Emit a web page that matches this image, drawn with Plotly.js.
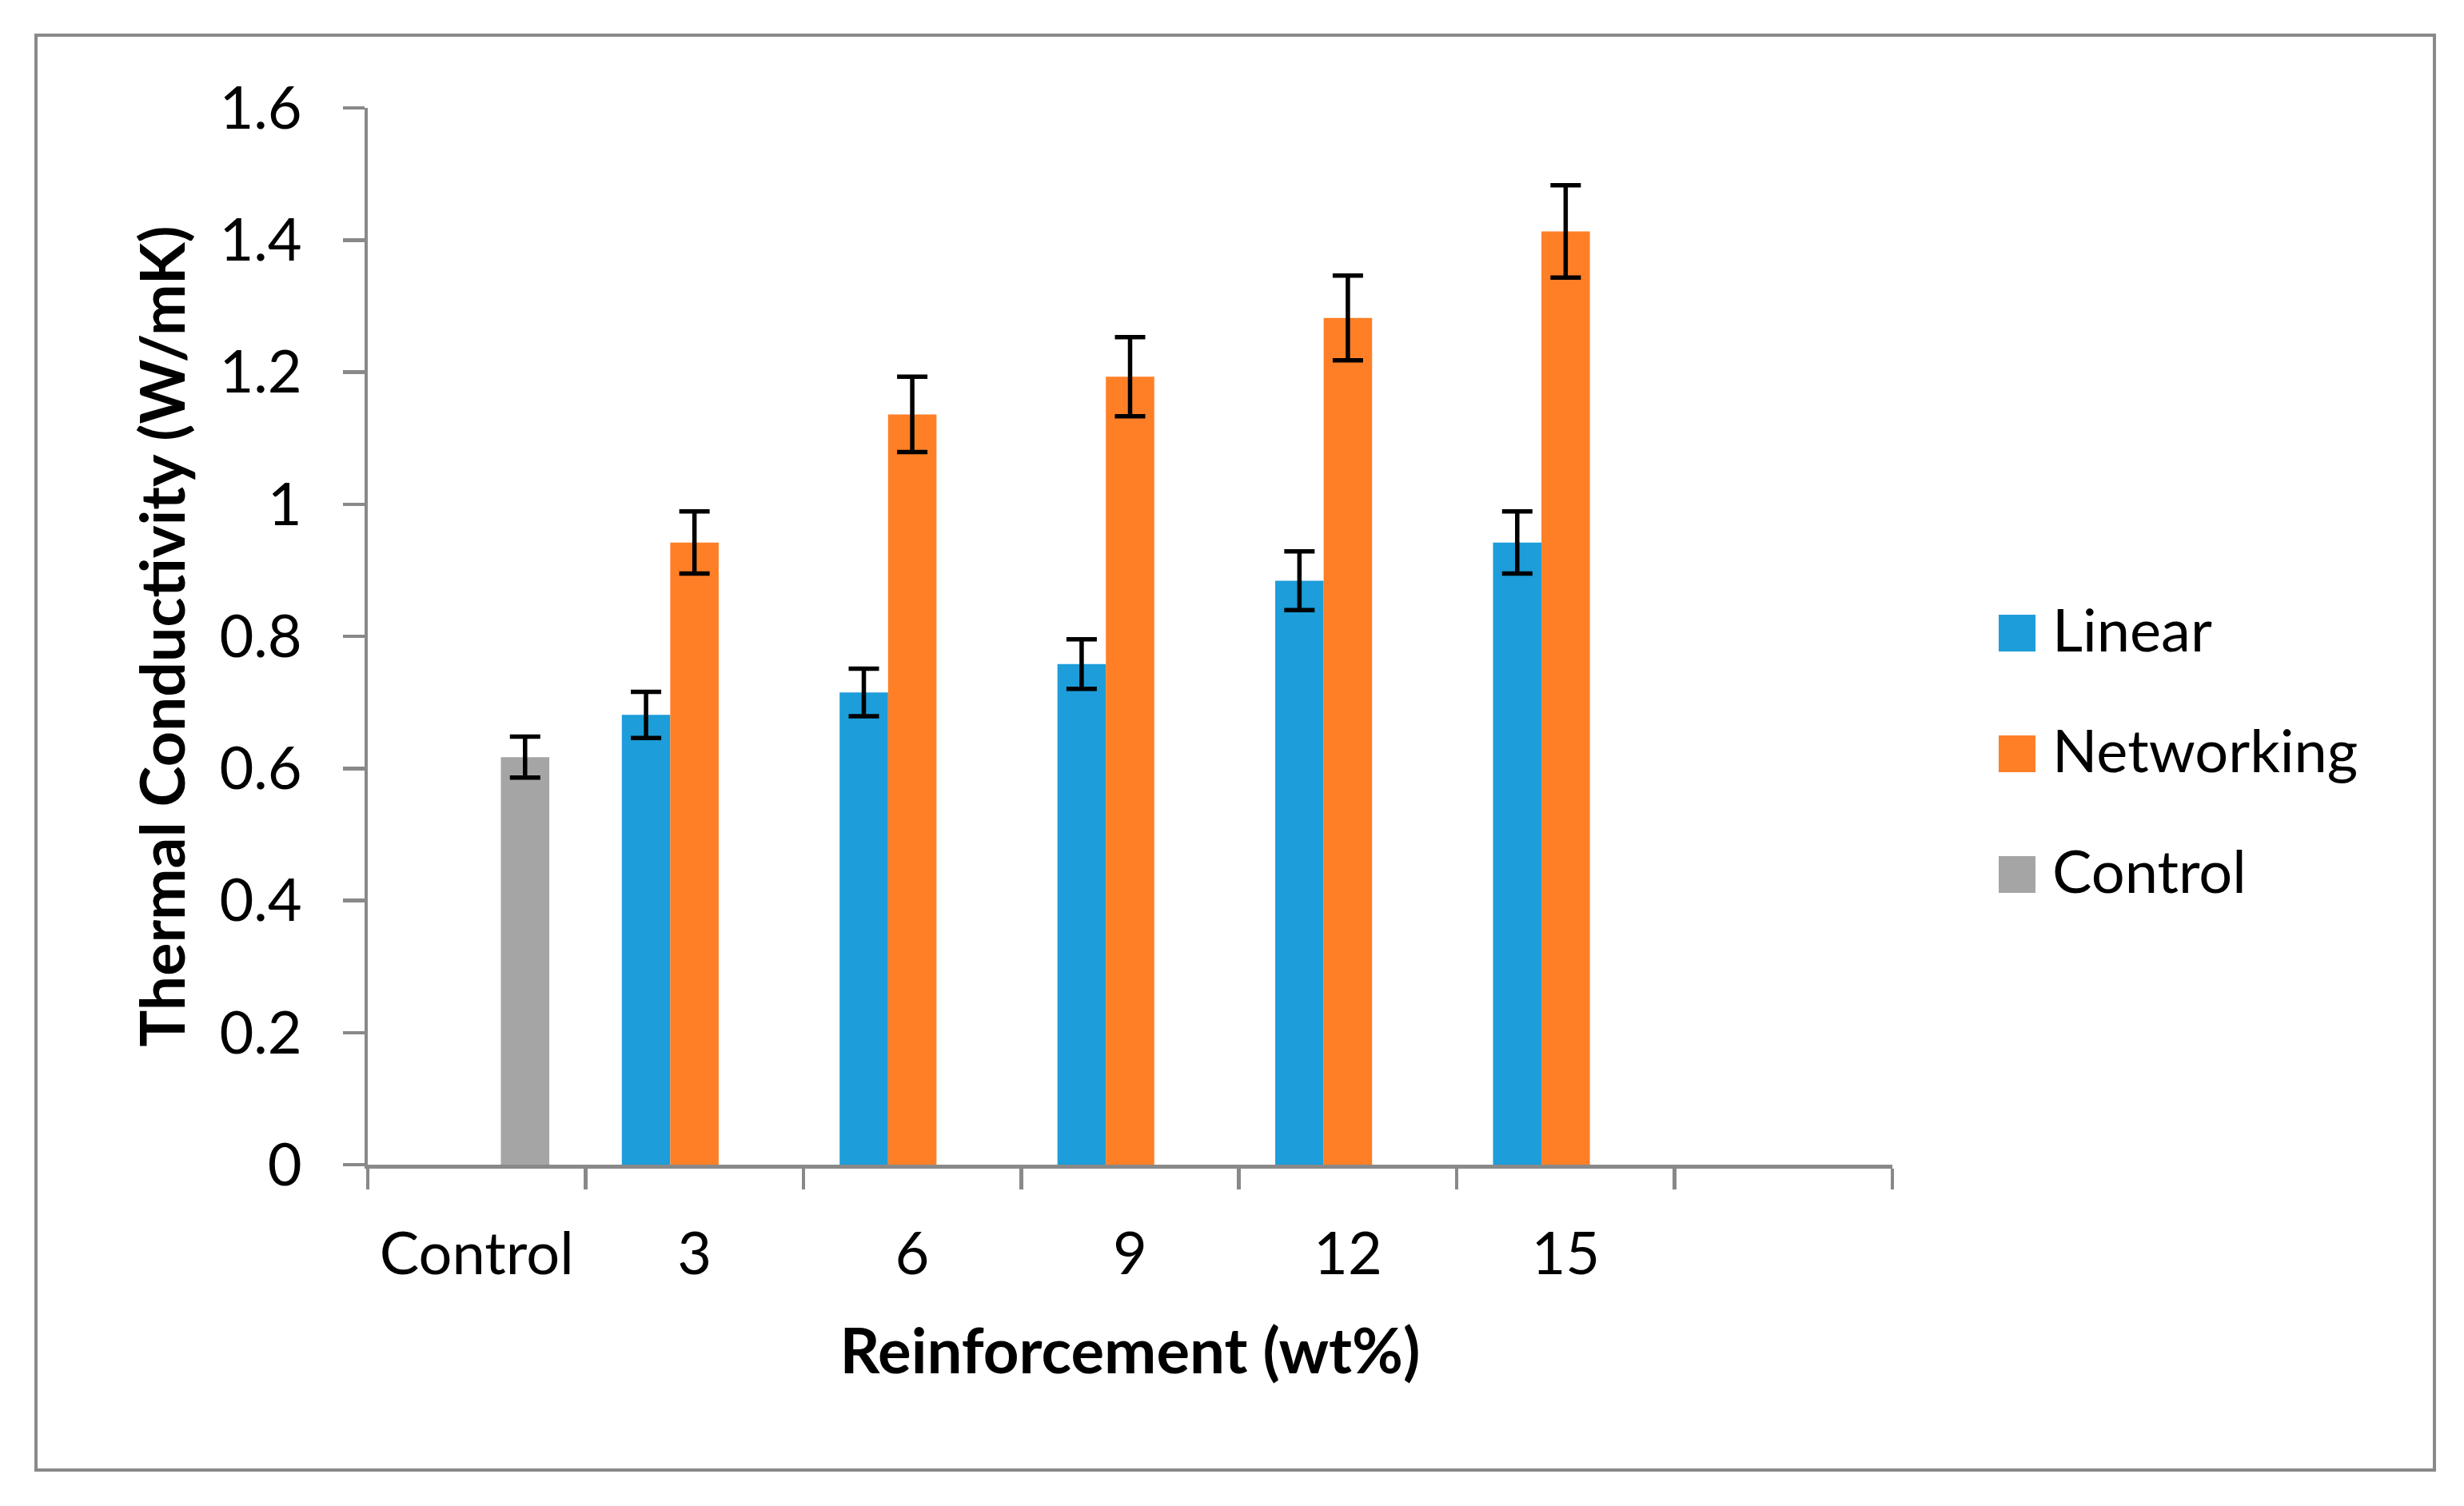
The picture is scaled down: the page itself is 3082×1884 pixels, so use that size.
<!DOCTYPE html>
<html><head><meta charset="utf-8">
<script src="https://cdn.plot.ly/plotly-3.0.1.min.js"></script>
<style>html,body{margin:0;padding:0;background:#fff;} #chart{width:3082px;height:1884px;}</style>
</head><body><div id="chart"></div>
<script>
const categories = ["Control", "3", "6", "9", "12", "15", "\u00a0"];
const seriesNames = ["Linear", "Networking", "Control"];
const linearValues = [null, 0.681, 0.715, 0.758, 0.884, 0.942, null];
const linearErrors = [0, 0.035, 0.036, 0.0375, 0.0445, 0.047, 0];
const networkingValues = [null, 0.942, 1.136, 1.193, 1.282, 1.413, null];
const networkingErrors = [0, 0.047, 0.057, 0.060, 0.064, 0.070, 0];
const controlValues = [0.617, null, null, null, null, null, null];
const controlErrors = [0.031, 0, 0, 0, 0, 0, 0];
const yTickVals = [0, 0.2, 0.4, 0.6, 0.8, 1, 1.2, 1.4, 1.6];
const yTickText = ["0", "0.2", "0.4", "0.6", "0.8", "1", "1.2", "1.4", "1.6"];
const seriesColors = ["#1D9DD9", "#FF7F27", "#A5A5A5"];

const W = 3082, H = 1884, L = 460, R = 2367, T = 135, B = 1457;
const FONT = "Lato, 'Open Sans', sans-serif";
const AXIS = "#898989";

const valueSets = [linearValues, networkingValues, controlValues];
const errorSets = [linearErrors, networkingErrors, controlErrors];
const data = seriesNames.map((name, i) => ({
  type: "bar",
  name: name,
  legendgroup: name,
  x: categories,
  y: valueSets[i],
  marker: {color: seriesColors[i], line: {width: 0}},
  error_y: {type: "data", array: errorSets[i], visible: true, color: "#000", thickness: 5.5, width: 19}
}));

const px = v => (v - L) / (R - L);
const py = v => (B - v) / (B - T);

const layout = {
  width: W, height: H, autosize: false,
  margin: {l: L, r: W - R, t: T, b: H - B, pad: 0},
  paper_bgcolor: "#fff", plot_bgcolor: "#fff",
  font: {family: FONT, color: "#000", size: 74},
  barmode: "group", bargap: 0.333, bargroupgap: 0,
  showlegend: true,
  legend: {x: 1.05, y: 0.55, xanchor: "left", yanchor: "middle", bgcolor: "rgba(0,0,0,0)",
           font: {family: FONT, size: 74, color: "#000"}, tracegroupgap: 0, traceorder: "normal"},
  xaxis: {
    type: "category", categoryorder: "array", categoryarray: categories,
    range: [-0.5, categories.length - 0.5], tickson: "boundaries",
    ticks: "outside", ticklen: 26, tickwidth: 4.5, tickcolor: AXIS,
    showline: true, linecolor: AXIS, linewidth: 4.5, showgrid: false, zeroline: false,
    tickfont: {family: FONT, size: 74, color: "#000"}, ticklabelstandoff: 44,
    title: {text: "<b>Reinforcement (wt%)</b>", font: {family: FONT, size: 78, color: "#000"}, standoff: 55},
    automargin: false, fixedrange: true
  },
  yaxis: {
    range: [0, 1.6], tickmode: "array", tickvals: yTickVals, ticktext: yTickText,
    ticks: "outside", ticklen: 27, tickwidth: 4.5, tickcolor: AXIS,
    showline: true, linecolor: AXIS, linewidth: 4.5, showgrid: false, zeroline: false,
    tickfont: {family: FONT, size: 74, color: "#000"}, ticklabelstandoff: 36,
    title: {text: "<b>Thermal Conductivity (W/mK)</b>", font: {family: FONT, size: 77, color: "#000"}, standoff: 19},
    automargin: false, fixedrange: true
  },
  shapes: [{
    type: "rect", xref: "paper", yref: "paper",
    x0: px(45), x1: px(3045), y0: py(1839), y1: py(44),
    line: {color: AXIS, width: 4}, fillcolor: "rgba(0,0,0,0)", layer: "below"
  }]
};

const gd = document.getElementById("chart");
Plotly.newPlot(gd, data, layout, {staticPlot: true, displayModeBar: false}).then(() => {
  const legend = gd.querySelector("g.legend");
  if (!legend) return;
  legend.querySelectorAll("[clip-path]").forEach(el => el.removeAttribute("clip-path"));
  const traces = Array.from(legend.querySelectorAll("g.traces"));
  const parse = s => { const m = (s || "").match(/translate\(\s*([-\d.e]+)[ ,]+([-\d.e]+)\s*\)/); return m ? [parseFloat(m[1]), parseFloat(m[2])] : [0, 0]; };
  const base = traces.length ? parse(traces[0].getAttribute("transform")) : [0, 0];
  traces.forEach((tr, i) => {
    const p = tr.querySelector(".legendpoints path");
    if (p) { p.setAttribute("d", "M3,-17H49V29H3Z"); p.removeAttribute("transform"); }
    const t = tr.querySelector("text.legendtext");
    if (t) t.setAttribute("transform", "translate(30,0)");
    const own = parse(tr.getAttribute("transform"));
    tr.setAttribute("transform", "translate(" + own[0] + "," + (base[1] + i * 151) + ")");
  });
  const p0 = traces[0].querySelector(".legendpoints path");
  const r0 = p0.getBoundingClientRect();
  const g = gd.getBoundingClientRect();
  const dx = 2500 - (r0.left - g.left), dy = 769 - (r0.top - g.top);
  const lt = parse(legend.getAttribute("transform"));
  legend.setAttribute("transform", "translate(" + (lt[0] + dx) + "," + (lt[1] + dy) + ")");
});
</script>
</body></html>
